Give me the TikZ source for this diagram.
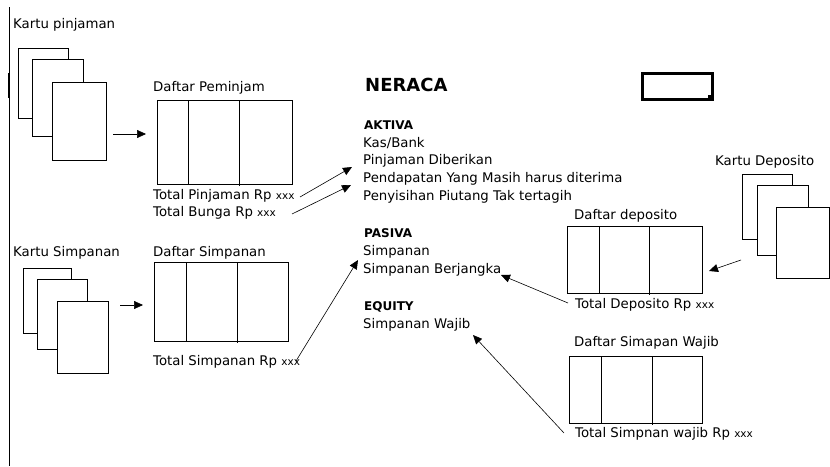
\documentclass[tikz,border=0pt]{standalone}
\usepackage{fontspec}
\setmainfont{DejaVu Sans}
\usetikzlibrary{arrows.meta}
\newcommand{\xxx}{{\fontsize{10.5}{12}\selectfont xxx}}
\begin{document}
\begin{tikzpicture}[x=1pt,y=-1pt,
  lbl/.style={anchor=west,inner sep=0pt,font=\fontsize{13.3}{15}\selectfont},
  head/.style={lbl,font=\fontsize{12}{14}\selectfont\bfseries},
  card/.style={draw,fill=white,line width=0.9pt,anchor=north west,inner sep=0pt},
  tbl/.style={draw,line width=0.9pt,anchor=north west,inner sep=0pt},
  conn/.style={-{Triangle[length=9pt,width=8pt]},line width=0.6pt}]
\useasboundingbox (0,0) rectangle (830,466);
% left border line
\draw[line width=0.8pt] (9,7) -- (9,466);
\draw[line width=2pt] (9,73) -- (9,98);

% ---- Kartu pinjaman
\node[lbl] (kp) at (13,25) {Kartu pinjaman};
\node[card,minimum width=50pt,minimum height=70pt] (kp1) at (18,48) {};
\node[card,minimum width=51pt,minimum height=77pt] (kp2) at (32,59) {};
\node[card,minimum width=54pt,minimum height=78pt] (kp3) at (52,82) {};
\coordinate (kpa) at (113,134);
\coordinate (dpa) at (146,134);
\draw[conn] (kpa) -- (dpa);

\node[lbl] (dpt) at (153,88) {Daftar Peminjam};
\node[tbl,minimum width=135pt,minimum height=84pt] (dp) at (157,100) {};
\draw[line width=0.9pt] (188,100) -- (188,184);
\draw[line width=0.9pt] (239,100) -- (239,186);
\node[lbl] (tp) at (153,196) {Total Pinjaman Rp \xxx};
\node[lbl] (tb) at (153,213) {Total Bunga Rp \xxx};

% ---- Kartu Simpanan
\node[lbl] (ks) at (13,253) {Kartu Simpanan};
\node[card,minimum width=48pt,minimum height=65pt] (ks1) at (23,268) {};
\node[card,minimum width=50pt,minimum height=70pt] (ks2) at (37,279) {};
\node[card,minimum width=51pt,minimum height=72pt] (ks3) at (57,301) {};
\coordinate (ksa) at (120,305);
\coordinate (dsa) at (143,305);
\draw[conn] (ksa) -- (dsa);

\node[lbl] (dst) at (153,253) {Daftar Simpanan};
\node[tbl,minimum width=134pt,minimum height=79pt] (ds) at (154,262) {};
\draw[line width=0.9pt] (186,262) -- (186,341);
\draw[line width=0.9pt] (237,262) -- (237,343);
\node[lbl] (ts) at (153,362) {Total Simpanan Rp \xxx};

% ---- NERACA
\node[lbl,font=\fontsize{18}{20}\selectfont\bfseries] (ner) at (365,85) {NERACA};
\node[draw,line width=3pt,minimum width=70pt,minimum height=26pt,anchor=north west,inner sep=0pt] (box) at (641,72) {};
\fill (708,95) rectangle (714,101);

\node[head] (akt) at (364,125) {AKTIVA};
\node[lbl] (kas) at (363,143) {Kas/Bank};
\node[lbl] (pjd) at (363,161) {Pinjaman Diberikan};
\node[lbl] (pdt) at (363,179) {Pendapatan Yang Masih harus diterima};
\node[lbl] (pny) at (363,197) {Penyisihan Piutang Tak tertagih};
\node[head] (pas) at (364,233) {PASIVA};
\node[lbl] (smp) at (363,252) {Simpanan};
\node[lbl] (sbj) at (363,270) {Simpanan Berjangka};
\node[head] (eq) at (364,307) {EQUITY};
\node[lbl] (swj) at (363,325) {Simpanan Wajib};

% ---- Kartu Deposito
\node[lbl] (kd) at (715,162) {Kartu Deposito};
\node[card,minimum width=50pt,minimum height=65pt] (kd1) at (742,174) {};
\node[card,minimum width=51pt,minimum height=70pt] (kd2) at (757,185) {};
\node[card,minimum width=53pt,minimum height=71pt] (kd3) at (776,207) {};
\coordinate (kda) at (741,260);
\coordinate (dda) at (709,271);
\draw[conn] (kda) -- (dda);

\node[lbl] (ddt) at (574,216) {Daftar deposito};
\node[tbl,minimum width=135pt,minimum height=67pt] (dd) at (567,226) {};
\draw[line width=0.9pt] (599,226) -- (599,293);
\draw[line width=0.9pt] (649,226) -- (649,295);
\node[lbl] (td) at (575,305) {Total Deposito Rp \xxx};

\node[lbl] (dwt) at (574,343) {Daftar Simapan Wajib};
\node[tbl,minimum width=133pt,minimum height=67pt] (dw) at (569,356) {};
\draw[line width=0.9pt] (601,356) -- (601,423);
\draw[line width=0.9pt] (652,356) -- (652,425);
\node[lbl] (tw) at (575,434) {Total Simpnan wajib Rp \xxx};

% ---- connectors to NERACA
\coordinate (a1s) at (300,197);
\coordinate (a1e) at (352,167);
\draw[conn] (a1s) -- (a1e);
\coordinate (a2s) at (292,214);
\coordinate (a2e) at (351,185);
\draw[conn] (a2s) -- (a2e);
\coordinate (a3s) at (296,361);
\coordinate (a3e) at (358,260);
\draw[conn] (a3s) -- (a3e);
\coordinate (a4s) at (568,303);
\coordinate (a4e) at (501,275);
\draw[conn] (a4s) -- (a4e);
\coordinate (a5s) at (564,433);
\coordinate (a5e) at (473,335);
\draw[conn] (a5s) -- (a5e);
\end{tikzpicture}
\end{document}
